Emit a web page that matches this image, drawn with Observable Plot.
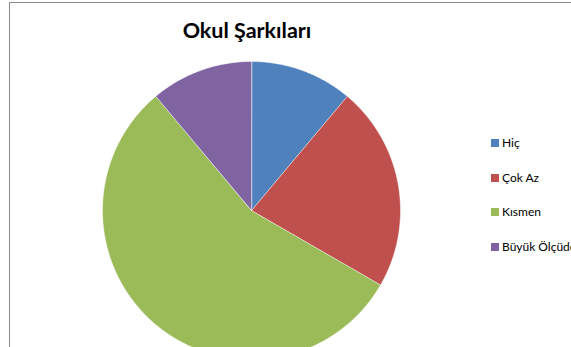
<!DOCTYPE html>
<html>
<head>
<meta charset="utf-8">
<script src="https://cdn.jsdelivr.net/npm/d3@7"></script>
<script src="https://cdn.jsdelivr.net/npm/@observablehq/plot@0.6"></script>
<style>
  html, body { margin: 0; padding: 0; background: #fff; overflow: hidden; }
  #wrap { position: relative; width: 571px; height: 347px; overflow: hidden; }
  #frame { position: absolute; left: 9px; top: 2px; width: 600px; height: 400px;
           border-top: 1px solid #8a8a8a; border-left: 1px solid #8a8a8a; }
  #chart { position: absolute; left: 0; top: 0; }
  #title { position: absolute; left: 0; width: 494px; top: 17px; text-align: center;
           font-family: Lato, "Liberation Sans", sans-serif; font-weight: bold; font-size: 21.5px; color: #000; }
  #legend { position: absolute; left: 491px; top: 135px; font-family: Lato, "Liberation Sans", sans-serif;
            font-size: 12px; color: #000; white-space: nowrap; }
  .item { height: 34.7px; display: flex; align-items: flex-start; }
  .sw { width: 8px; height: 8px; margin-right: 3px; margin-top: 4px; }
</style>
</head>
<body>
<div id="wrap">
  <div id="frame"></div>
  <div id="chart"></div>
  <div id="title">Okul Şarkıları</div>
  <div id="legend"></div>
</div>
<script>
const title = "Okul Şarkıları";
const categories = ["Hiç", "Çok Az", "Kısmen", "Büyük Ölçüde"];
const values = [1, 2, 5, 1];
const colors = ["#4F81BD", "#C0504D", "#9BBB59", "#8064A2"];

const arcs = d3.pie().sort(null)(values);
const rows = [];
arcs.forEach((a, i) => {
  const cat = categories[i];
  rows.push({cat, x: 0, y: 0});
  const n = Math.max(2, Math.ceil((a.endAngle - a.startAngle) / 0.01));
  for (let k = 0; k <= n; k++) {
    const t = a.startAngle + (a.endAngle - a.startAngle) * k / n;
    rows.push({cat, x: Math.sin(t), y: Math.cos(t)});
  }
});

const cx = 251, cy = 210, r = 149;
const plot = Plot.plot({
  width: 571,
  height: 347,
  margin: 0,
  x: {domain: [-1, 1], range: [cx - r, cx + r], axis: null},
  y: {domain: [-1, 1], range: [cy + r, cy - r], axis: null},
  color: {domain: categories, range: colors},
  marks: [
    Plot.line(rows, {x: "x", y: "y", z: "cat", fill: "cat", stroke: "#ffffff", strokeWidth: 0.6, strokeOpacity: 0.8, curve: "linear-closed"})
  ]
});
plot.style.background = "transparent";
document.getElementById("chart").appendChild(plot);

const legend = document.getElementById("legend");
categories.forEach((c, i) => {
  const item = document.createElement("div");
  item.className = "item";
  const sw = document.createElement("div");
  sw.className = "sw";
  sw.style.background = colors[i];
  const label = document.createElement("span");
  label.textContent = c;
  item.appendChild(sw);
  item.appendChild(label);
  legend.appendChild(item);
});
</script>
</body>
</html>
